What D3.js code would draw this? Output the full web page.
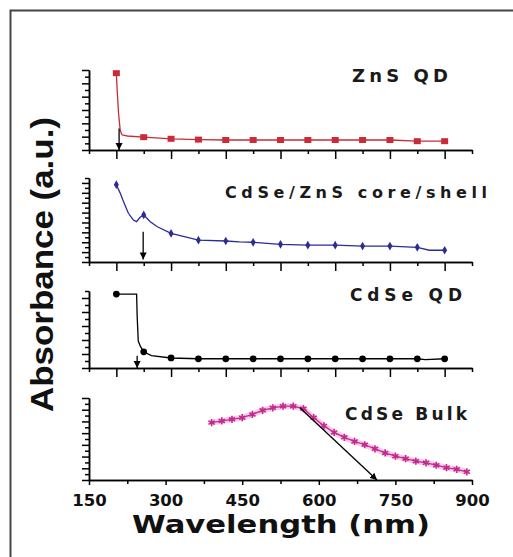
<!DOCTYPE html>
<html>
<head>
<meta charset="utf-8">
<script src="https://cdn.jsdelivr.net/npm/d3@7"></script>
<style>
  body { margin: 0; background: #fff; }
  .axis path, .axis line { stroke: #000; stroke-width: 1.5; }
</style>
</head>
<body>
<script>
// stacked absorbance spectra, 4 panels sharing one wavelength axis

// ZnS QD (red squares)
var zns_wl  = [200, 201, 204, 207, 210, 220, 250, 300, 350, 400, 450, 500, 550, 600, 650, 700, 750, 800];
var zns_abs = [0.96, 0.81, 0.46, 0.25, 0.19, 0.175, 0.16, 0.14, 0.13, 0.125, 0.125, 0.125, 0.125, 0.125, 0.125, 0.125, 0.11, 0.11];

// CdSe/ZnS core/shell (blue)
var cs_wl  = [200, 207, 213, 222, 231, 237, 243, 250, 262, 275, 300, 350, 400, 425, 450, 500, 550, 600, 650, 700, 750, 772, 800];
var cs_abs = [0.92, 0.82, 0.72, 0.58, 0.50, 0.48, 0.53, 0.56, 0.48, 0.42, 0.34, 0.26, 0.25, 0.24, 0.235, 0.21, 0.20, 0.20, 0.19, 0.19, 0.175, 0.14, 0.14];

// CdSe QD (black)
var qd_wl  = [200, 237, 238, 240, 244, 250, 264, 300, 350, 400, 450, 500, 550, 600, 650, 700, 750, 765, 800];
var qd_abs = [0.96, 0.96, 0.68, 0.35, 0.28, 0.21, 0.16, 0.13, 0.12, 0.12, 0.12, 0.12, 0.12, 0.12, 0.12, 0.12, 0.12, 0.11, 0.12];

// CdSe bulk (magenta stars)
var bulk_wl  = [390, 410, 430, 450, 470, 490, 510, 530, 550, 570, 590, 610, 630, 650, 670, 690, 710, 730, 750, 770, 790, 810, 830, 850, 870, 890];
var bulk_abs = [0.70, 0.72, 0.74, 0.76, 0.80, 0.85, 0.88, 0.90, 0.90, 0.87, 0.76, 0.66, 0.58, 0.52, 0.47, 0.43, 0.38, 0.33, 0.29, 0.26, 0.23, 0.21, 0.18, 0.15, 0.13, 0.10];

// band-edge arrows: [wl start, abs start, wl end, abs end]
var arrow_zns  = [205, 0.27, 205, 0.0];
var arrow_cs   = [249, 0.36, 249, 0.03];
var arrow_qd   = [238, 0.16, 238, 0.0];
var arrow_bulk = [563, 0.88, 714, 0.0];

var bottom_ticks = [150, 300, 450, 600, 750, 900];

var W = 513, H = 557;
var svg = d3.select("body").append("svg")
    .attr("width", W)
    .attr("height", H);

svg.append("defs").append("marker")
    .attr("id", "head")
    .attr("viewBox", "0 0 10 10")
    .attr("refX", 10).attr("refY", 5)
    .attr("markerWidth", 7).attr("markerHeight", 8)
    .attr("markerUnits", "userSpaceOnUse")
    .attr("orient", "auto")
  .append("path")
    .attr("d", "M0,0 L10,5 L0,10 z")
    .attr("fill", "#000");

// frame (top + left only, rest is cropped)
svg.append("path")
    .attr("d", "M10.5," + H + " V10.5 H" + W)
    .attr("fill", "none")
    .attr("stroke", "#444")
    .attr("stroke-width", 2);

// top three panels share an unlabeled 150-850 scale, bottom one 150-900
var xTop = d3.scaleLinear().domain([150, 850]).range([89, 472]);
var xBot = d3.scaleLinear().domain([150, 900]).range([89, 472]);

var panels = [
  {wl: zns_wl, ab: zns_abs, top: 70, bottom: 150, n: 12, color: "#cc2a36", mark: "square", x: xTop, arrow: arrow_zns,
   label: "ZnS QD", lx: 352, ly: 82, lw: 96, fs: 18},
  {wl: cs_wl, ab: cs_abs, top: 178, bottom: 262, n: 17, color: "#2c2c96", mark: "diamond", x: xTop, arrow: arrow_cs,
   label: "CdSe/ZnS core/shell", lx: 225, ly: 198, lw: 262, fs: 16},
  {wl: qd_wl, ab: qd_abs, top: 291, bottom: 368, n: 11, color: "#000", mark: "circle", x: xTop, arrow: arrow_qd,
   label: "CdSe QD", lx: 350, ly: 301, lw: 112, fs: 17},
  {wl: bulk_wl, ab: bulk_abs, top: 398, bottom: 480, n: 14, color: "#c42a8c", mark: "star", x: xBot, arrow: arrow_bulk,
   label: "CdSe Bulk", lx: 345, ly: 420, lw: 122, fs: 17}
];

panels.forEach(function(p, i) {
    var x = p.x;
    var y = d3.scaleLinear().domain([0, 1]).range([p.bottom, p.top]);
    var g = svg.append("g");

    // y axis with alternating tick lengths
    var yt = d3.range(0, p.n + 1).map(function(k) { return k / p.n; });
    g.append("g").attr("class", "axis")
        .attr("transform", "translate(" + x.range()[0] + ",0)")
        .call(d3.axisLeft(y).tickValues(yt.filter(function(d, k) { return k % 2 == 1; }))
            .tickSize(4).tickSizeOuter(0).tickFormat(""));
    g.append("g").attr("class", "axis")
        .attr("transform", "translate(" + x.range()[0] + ",0)")
        .call(d3.axisLeft(y).tickValues(yt.filter(function(d, k) { return k % 2 == 0; }))
            .tickSize(7).tickSizeOuter(0).tickFormat(""));

    // x axis
    var minor, major;
    if (x === xTop) {
        minor = d3.range(150, 851, 100);
        major = d3.range(200, 851, 100);
    } else {
        minor = d3.range(225, 900, 150);
        major = bottom_ticks;
    }
    g.append("g").attr("class", "axis")
        .attr("transform", "translate(0," + p.bottom + ")")
        .call(d3.axisBottom(x).tickValues(minor).tickSize(4).tickSizeOuter(0).tickFormat(""));
    var ax = g.append("g").attr("class", "axis")
        .attr("transform", "translate(0," + p.bottom + ")")
        .call(d3.axisBottom(x).tickValues(major).tickSize(i == 3 ? 5 : 9).tickSizeOuter(0)
            .tickFormat(i == 3 ? d3.format("d") : ""));
    if (i == 3) {
        ax.selectAll("text")
            .attr("y", 14)
            .style("font-family", "DejaVu Sans")
            .style("font-weight", "bold")
            .style("font-size", "16.5px")
            .attr("fill", "#111");
    }

    var pts = p.wl.map(function(w, k) { return [w, p.ab[k]]; });
    var line = d3.line()
        .x(function(d) { return x(d[0]); })
        .y(function(d) { return y(d[1]); });

    if (p.mark == "star") {
        g.append("path").datum(pts)
            .attr("d", line)
            .attr("fill", "none")
            .attr("stroke", "#f4b8e4")
            .attr("stroke-width", 6)
            .attr("stroke-linejoin", "round")
            .attr("opacity", 0.7);
    }
    g.append("path").datum(pts)
        .attr("d", line)
        .attr("fill", "none")
        .attr("stroke", p.color)
        .attr("stroke-width", 1.3);

    // markers: top panels only at the 50 nm grid, bulk at every point
    var mpts = p.mark == "star" ? pts : pts.filter(function(d) { return d[0] % 50 == 0; });
    var sym;
    if (p.mark == "square") {
        g.selectAll(".m").data(mpts).enter().append("rect")
            .attr("x", function(d) { return x(d[0]) - 3.5; })
            .attr("y", function(d) { return y(d[1]) - 3; })
            .attr("width", 7).attr("height", 6)
            .attr("fill", p.color);
    } else {
        if (p.mark == "diamond") sym = d3.symbol(d3.symbolDiamond, 22);
        else if (p.mark == "circle") sym = d3.symbol(d3.symbolCircle, 36);
        else sym = d3.symbol(d3.symbolAsterisk, 36);
        g.selectAll(".m").data(mpts).enter().append("path")
            .attr("transform", function(d) { return "translate(" + x(d[0]) + "," + y(d[1]) + ")"; })
            .attr("d", sym)
            .attr("fill", p.mark == "star" ? "none" : p.color)
            .attr("stroke", p.mark == "star" ? p.color : "none")
            .attr("stroke-width", 1.6);
    }

    // arrow
    var a = p.arrow;
    g.append("line")
        .attr("x1", x(a[0])).attr("y1", y(a[1]))
        .attr("x2", x(a[2])).attr("y2", y(a[3]))
        .attr("stroke", "#000")
        .attr("stroke-width", 1.3)
        .attr("marker-end", "url(#head)");

    g.append("text")
        .attr("x", p.lx).attr("y", p.ly)
        .attr("textLength", p.lw)
        .attr("lengthAdjust", "spacing")
        .style("font-family", "DejaVu Sans")
        .style("font-weight", "bold")
        .style("font-size", p.fs + "px")
        .attr("fill", "#1a1a1a")
        .text(p.label);
});

svg.append("text")
    .attr("x", 132).attr("y", 533)
    .attr("textLength", 298)
    .attr("lengthAdjust", "spacingAndGlyphs")
    .style("font-family", "DejaVu Sans")
    .style("font-weight", "bold")
    .style("font-size", "24px")
    .attr("fill", "#111")
    .text("Wavelength (nm)");

svg.append("text")
    .attr("transform", "translate(53,412) rotate(-90)")
    .attr("textLength", 295)
    .attr("lengthAdjust", "spacingAndGlyphs")
    .style("font-family", "Liberation Sans")
    .style("font-weight", "bold")
    .style("font-size", "31px")
    .attr("fill", "#111")
    .text("Absorbance (a.u.)");
</script>
</body>
</html>
